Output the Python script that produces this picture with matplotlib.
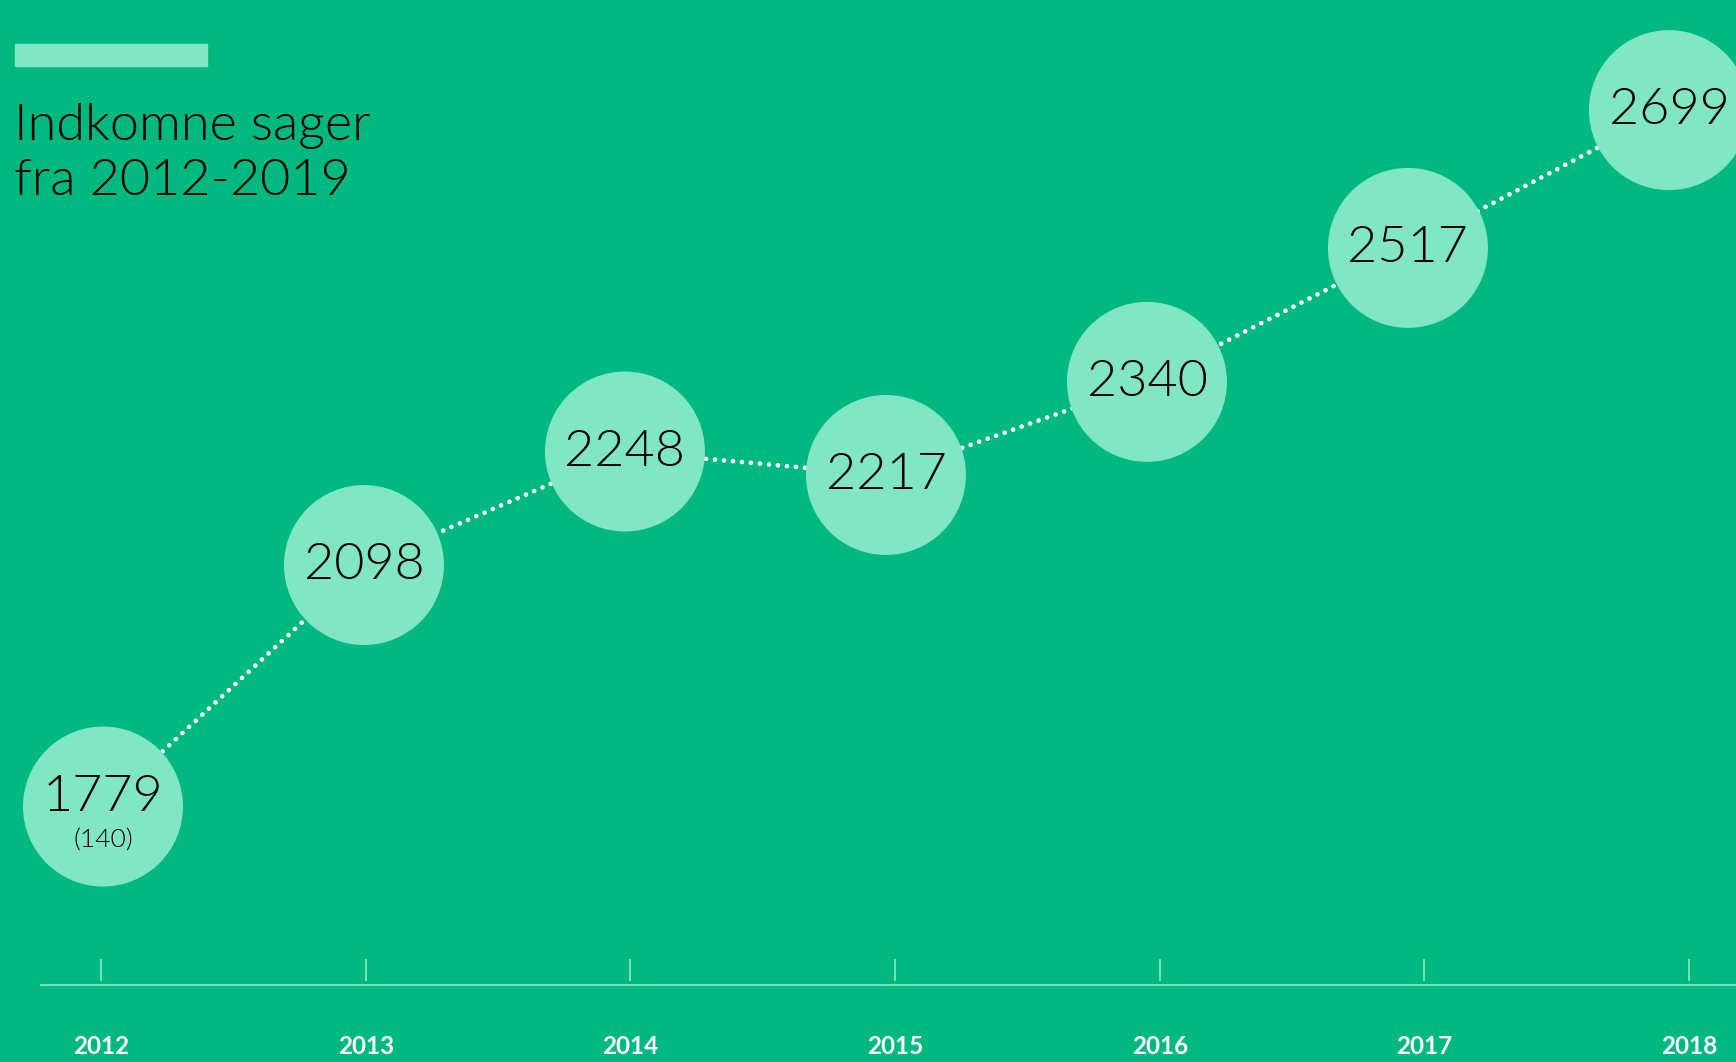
import numpy as np
import matplotlib.pyplot as plt
import matplotlib.transforms as mtransforms
from matplotlib.patches import Rectangle

years = ['2012', '2013', '2014', '2015', '2016', '2017', '2018']
cases = [1779, 2098, 2248, 2217, 2340, 2517, 2699]
note_2012 = '(140)'

bg = '#00B880'
mint = '#80E6C4'

W, H = 1736, 1062
fig = plt.figure(figsize=(W / 100, H / 100), dpi=100, facecolor=bg)

# main axes: circles + dotted line
ax = fig.add_axes([0, 0, 1, 1])
ax.set_facecolor(bg)
ax.set_xlim(-0.3946, 6.257)
ax.set_ylim(1441.5, 2844.5)
ax.axis('off')

x = np.arange(len(years))
ax.plot(x, cases, ls=(0, (0.01, 1.9)), lw=3.4, color='white',
        dash_capstyle='round', zorder=1)
ax.scatter(x, cases, s=115.2 ** 2, color=mint, edgecolors='none', zorder=2)

def shift(dy_px):
    return ax.transData + mtransforms.ScaledTranslation(0, dy_px / 100, fig.dpi_scale_trans)

for i, v in enumerate(cases):
    if i == 0:
        ax.text(i, v, str(v), ha='center', va='center', fontsize=37.5,
                family='Lato', fontweight=300, color='black', zorder=3,
                transform=shift(10))
        ax.text(i, v, note_2012, ha='center', va='center', fontsize=19,
                family='Lato', fontweight=300, color='black', zorder=3,
                transform=shift(-34))
    else:
        ax.text(i, v, str(v), ha='center', va='center', fontsize=37.5,
                family='Lato', fontweight=300, color='black', zorder=3)

# timeline axes
ax2 = fig.add_axes([0, 0, 1, 1])
ax2.patch.set_alpha(0)
ax2.set_xlim(-0.3816, 6.177)
ax2.set_ylim(0, 1)
ax2.axis('off')
ax2.axhline(1 - 985 / H, xmin=41 / W, xmax=1, color=mint, lw=1.3)
ax2.vlines(x, 1 - 981 / H, 1 - 959 / H, color=mint, lw=1.3)
for i, y in enumerate(years):
    ax2.text(i, 1 - 1047 / H, y, ha='center', va='center', fontsize=17.5,
             family='Lato', fontweight='bold', color='white')

# title
fig.patches.append(Rectangle((15 / W, 1 - 66 / H), 192 / W, 22 / H,
                             transform=fig.transFigure, color=mint, zorder=0))
fig.text(14 / W, 1 - 140 / H, 'Indkomne sager', fontsize=37.5, family='Lato',
         fontweight=300, va='baseline', ha='left', color='black')
fig.text(14 / W, 1 - 195 / H, 'fra 2012-2019', fontsize=37.5, family='Lato',
         fontweight=300, va='baseline', ha='left', color='black')

fig.savefig('out.png', dpi=100, facecolor=bg)
